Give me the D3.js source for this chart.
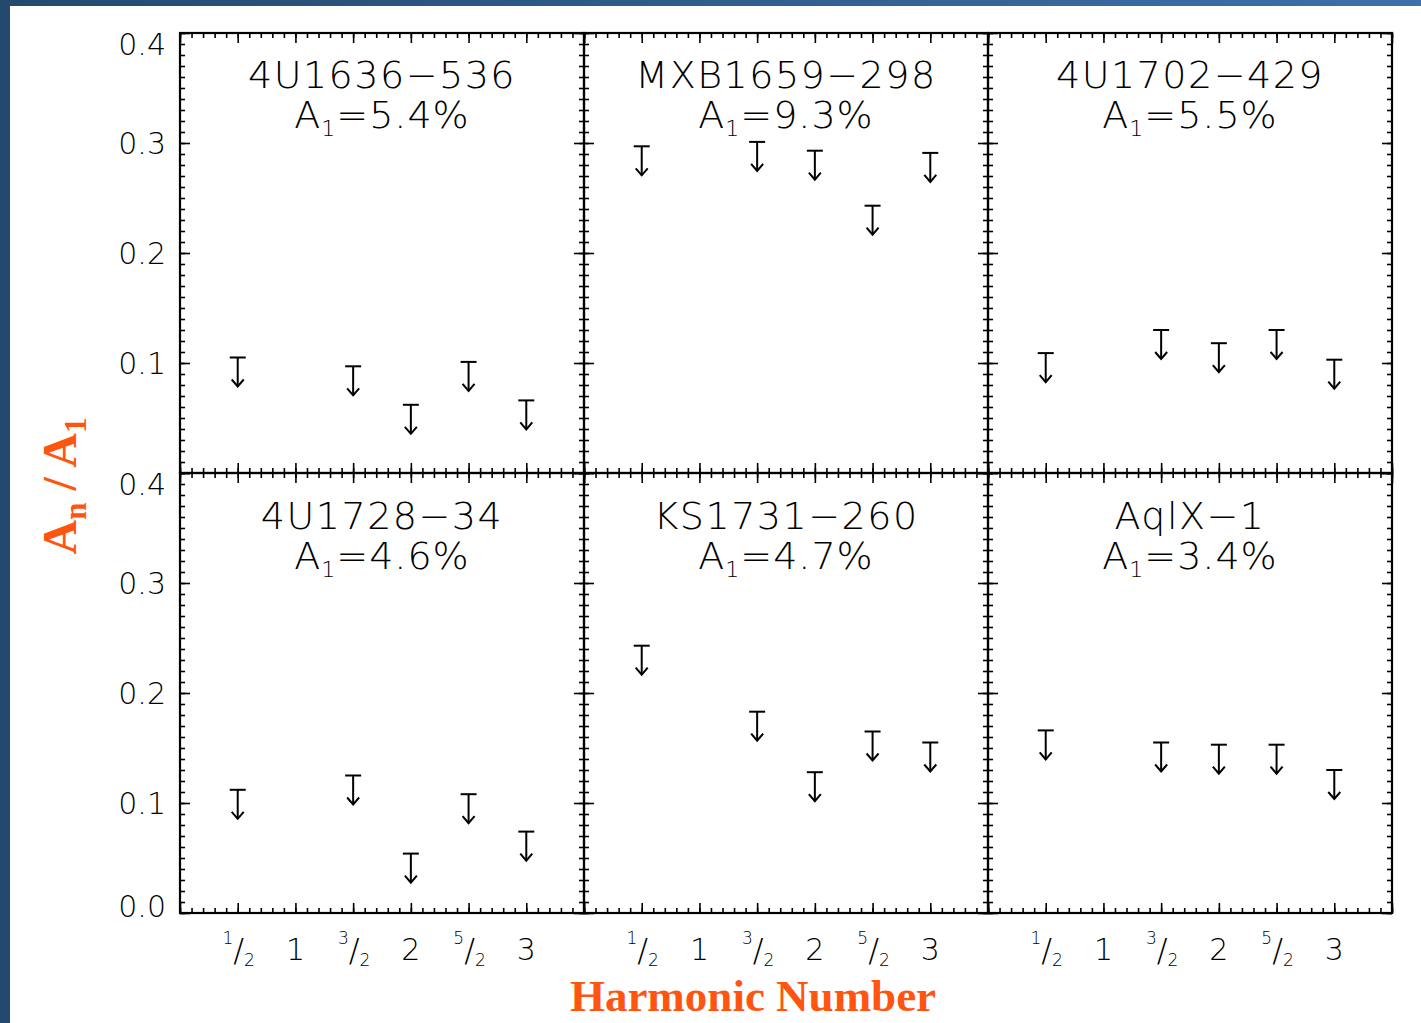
<!DOCTYPE html>
<html>
<head>
<meta charset="utf-8">
<script src="https://cdn.jsdelivr.net/npm/d3@7"></script>
<style>
  html, body { margin: 0; padding: 0; background: #ffffff; }
  svg { display: block; }
  .thin { font-family: "DejaVu Sans", sans-serif; font-weight: 200; fill: #000; }
  .axis line { stroke: #000; stroke-width: 1.6px; }
  .axis path { display: none; }
</style>
</head>
<body>
<svg id="chart" width="1421" height="1023"></svg>
<script>
// Harmonic positions (in units of the fundamental) with upper limits
const harmonics = [0.5, 1.5, 2, 2.5, 3];
const sourceNames = ["4U1636\u2212536", "MXB1659\u2212298", "4U1702\u2212429",
                     "4U1728\u221234", "KS1731\u2212260", "AqlX\u22121"];
const fundamentalAmp = ["5.4%", "9.3%", "5.5%", "4.6%", "4.7%", "3.4%"];

// Upper limits on A_n / A_1, one list per source
const limits4U1636 = [0.105, 0.097, 0.062, 0.101, 0.066];
const limitsMXB1659 = [0.297, 0.301, 0.293, 0.243, 0.291];
const limits4U1702 = [0.109, 0.130, 0.118, 0.130, 0.103];
const limits4U1728 = [0.112, 0.125, 0.054, 0.108, 0.074];
const limitsKS1731 = [0.243, 0.183, 0.128, 0.165, 0.155];
const limitsAqlX1 = [0.166, 0.155, 0.153, 0.153, 0.130];
const allLimits = [limits4U1636, limitsMXB1659, limits4U1702, limits4U1728, limitsKS1731, limitsAqlX1];

// Axis ticks
const xMajor = [0, 0.5, 1, 1.5, 2, 2.5, 3, 3.5];
const xLabels = [
  { v: 0.5, num: "1", den: "2" },
  { v: 1,   whole: "1" },
  { v: 1.5, num: "3", den: "2" },
  { v: 2,   whole: "2" },
  { v: 2.5, num: "5", den: "2" },
  { v: 3,   whole: "3" }
];
const yMajor = [0, 0.1, 0.2, 0.3, 0.4];

const svg = d3.select("#chart");

// Slide-style frame: blue band along the top and left edges
const defs = svg.append("defs");
const grad = defs.append("linearGradient").attr("id", "band").attr("x1", 0).attr("x2", 1);
grad.append("stop").attr("offset", 0).attr("stop-color", "#234a6e");
grad.append("stop").attr("offset", 1).attr("stop-color", "#3d70aa");
svg.append("rect").attr("x", 0).attr("y", 0).attr("width", 1421).attr("height", 6).attr("fill", "url(#band)");
svg.append("rect").attr("x", 0).attr("y", 0).attr("width", 10).attr("height", 1023).attr("fill", "#234a6e");

const plotLeft = 180, plotTop = 33, panelW = 404, panelH = 440;

const x0 = d3.scaleLinear().domain([0, 3.5]).range([0, panelW]);
const y0 = d3.scaleLinear().domain([0, 0.4]).range([panelH, 0]);

sourceNames.forEach((name, i) => {
  const col = i % 3, row = Math.floor(i / 3);
  const g = svg.append("g").attr("transform", `translate(${plotLeft + col * panelW},${plotTop + row * panelH})`);

  // Inward ticks on all four sides: major and minor
  const addAxis = (gen, tf) => g.append("g").attr("class", "axis").attr("transform", tf).call(gen);
  addAxis(d3.axisBottom(x0).tickValues(xMajor).tickSize(-10).tickFormat(""), `translate(0,${panelH})`);
  addAxis(d3.axisBottom(x0).tickValues(d3.range(0, 3.501, 0.1)).tickSize(-5).tickFormat(""), `translate(0,${panelH})`);
  addAxis(d3.axisTop(x0).tickValues(xMajor).tickSize(-10).tickFormat(""), "translate(0,0)");
  addAxis(d3.axisTop(x0).tickValues(d3.range(0, 3.501, 0.1)).tickSize(-5).tickFormat(""), "translate(0,0)");
  addAxis(d3.axisLeft(y0).tickValues(yMajor).tickSize(-10).tickFormat(""), "translate(0,0)");
  addAxis(d3.axisLeft(y0).tickValues(d3.range(0, 0.4001, 0.01)).tickSize(-5).tickFormat(""), "translate(0,0)");
  addAxis(d3.axisRight(y0).tickValues(yMajor).tickSize(-10).tickFormat(""), `translate(${panelW},0)`);
  addAxis(d3.axisRight(y0).tickValues(d3.range(0, 0.4001, 0.01)).tickSize(-5).tickFormat(""), `translate(${panelW},0)`);

  g.append("rect").attr("width", panelW).attr("height", panelH)
    .attr("fill", "none").attr("stroke", "#000").attr("stroke-width", 2.2);

  // Y tick labels on the left column
  if (col === 0) {
    const vals = row === 0 ? [0.1, 0.2, 0.3, 0.4] : yMajor;
    const ax = g.append("g").call(d3.axisLeft(y0).tickValues(vals).tickSize(0).tickPadding(14).tickFormat(d3.format(".1f")));
    ax.select(".domain").remove();
    ax.attr("font-family", null).attr("font-size", null);
    ax.selectAll("text").attr("class", "thin").style("font-size", "30px")
      .attr("dy", d => d === 0.4 ? "0.72em" : d === 0 ? "0.1em" : "0.34em");
  }

  // X tick labels on the bottom row
  if (row === 1) {
    const lab = g.selectAll(".xl").data(xLabels).join("text")
      .attr("class", "thin").attr("text-anchor", "middle")
      .attr("x", d => x0(d.v) + (d.whole ? 0 : 1)).attr("y", panelH + 47)
      .style("font-size", "30px");
    lab.each(function (d) {
      const t = d3.select(this);
      if (d.whole) { t.text(d.whole); return; }
      t.append("tspan").attr("dy", -16).style("font-size", "17px").text(d.num);
      t.append("tspan").attr("dy", 17).style("font-size", "32px").text("/");
      t.append("tspan").attr("dy", 5).style("font-size", "17px").text(d.den);
    });
  }

  // Source name and fundamental amplitude, as one two-line title
  const cx = panelW / 2;
  const title = g.append("text").attr("class", "thin").attr("text-anchor", "middle")
    .attr("y", row === 0 ? 55 : 56).style("font-size", "38px");
  title.append("tspan").attr("x", cx).style("letter-spacing", "1.5px").text(name);
  title.append("tspan").attr("x", cx).attr("dy", 40).style("letter-spacing", "1px").text("A");
  title.append("tspan").attr("dy", 8).style("font-size", "22px").style("letter-spacing", "1px").text("1");
  title.append("tspan").attr("dy", -8).style("letter-spacing", "1px").text("=" + fundamentalAmp[i]);

  // Upper-limit arrows
  const lims = allLimits[i].map((v, k) => ({ h: harmonics[k], v }));
  const arr = g.selectAll(".ul").data(lims).join("g")
    .attr("transform", d => `translate(${x0(d.h)},${y0(d.v)})`)
    .attr("fill", "none").attr("stroke", "#000").attr("stroke-width", 2);
  arr.append("line").attr("x1", -8).attr("x2", 8).attr("y1", 0).attr("y2", 0);
  arr.append("line").attr("x1", 0).attr("x2", 0).attr("y1", 0).attr("y2", 29);
  arr.append("path").attr("d", "M-6,22 L0,29 L6,22");
});

// Axis titles
svg.append("text")
  .attr("transform", "translate(76,486) rotate(-90)")
  .attr("text-anchor", "middle")
  .style("font-family", "'Liberation Serif', serif").style("font-weight", "bold")
  .style("font-size", "48px").style("fill", "#ff5511")
  .call(t => {
    t.append("tspan").text("A");
    t.append("tspan").attr("dy", 10).style("font-size", "31px").text("n");
    t.append("tspan").attr("dy", -10).text(" / A");
    t.append("tspan").attr("dy", 10).style("font-size", "31px").text("1");
  });

svg.append("text")
  .attr("x", 753).attr("y", 1011).attr("text-anchor", "middle")
  .style("font-family", "'Liberation Serif', serif").style("font-weight", "bold")
  .style("font-size", "45px").style("fill", "#ff5511")
  .text("Harmonic Number");
</script>
</body>
</html>
